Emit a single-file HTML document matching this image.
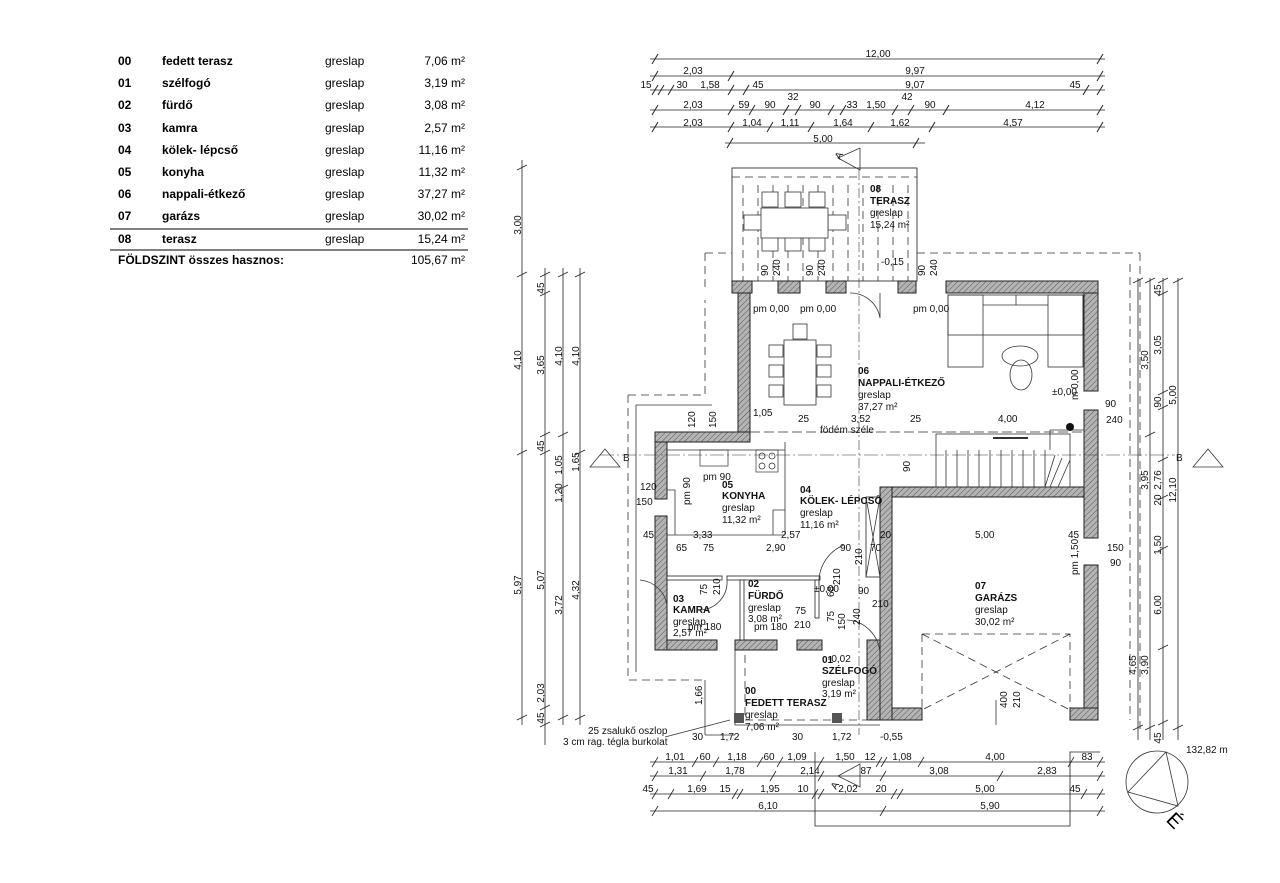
<!DOCTYPE html>
<html><head><meta charset="utf-8"><style>
body{margin:0;background:#fff;width:1280px;height:883px;overflow:hidden}
svg{display:block;font-family:"Liberation Sans",sans-serif}
.t{font-size:10px;fill:#111}
.b{font-size:10px;font-weight:bold;fill:#111}
.tb{font-size:12px;fill:#000}
.tbb{font-size:12px;font-weight:bold;fill:#000}
.d{stroke:#222;stroke-width:0.8;fill:none}
.w{fill:url(#h);stroke:#222;stroke-width:1}
.dash{stroke:#333;stroke-width:0.8;fill:none;stroke-dasharray:8 5}
.l{stroke:#333;stroke-width:0.8;fill:none}
</style></head><body>
<svg width="1280" height="883" viewBox="0 0 1280 883">
<defs>
<pattern id="h" width="4" height="4" patternUnits="userSpaceOnUse" patternTransform="rotate(45)">
<rect width="4" height="4" fill="#b4b4b4"/><line x1="0" y1="0" x2="0" y2="4" stroke="#555" stroke-width="1"/></pattern>
</defs>

<g>
<text class="tbb" x="118" y="65">00</text><text class="tbb" x="162" y="65">fedett terasz</text><text class="tb" x="325" y="65">greslap</text><text class="tb" x="465" y="65" text-anchor="end">7,06 m²</text>
<text class="tbb" x="118" y="87">01</text><text class="tbb" x="162" y="87">szélfogó</text><text class="tb" x="325" y="87">greslap</text><text class="tb" x="465" y="87" text-anchor="end">3,19 m²</text>
<text class="tbb" x="118" y="109">02</text><text class="tbb" x="162" y="109">fürdő</text><text class="tb" x="325" y="109">greslap</text><text class="tb" x="465" y="109" text-anchor="end">3,08 m²</text>
<text class="tbb" x="118" y="132">03</text><text class="tbb" x="162" y="132">kamra</text><text class="tb" x="325" y="132">greslap</text><text class="tb" x="465" y="132" text-anchor="end">2,57 m²</text>
<text class="tbb" x="118" y="154">04</text><text class="tbb" x="162" y="154">kölek- lépcső</text><text class="tb" x="325" y="154">greslap</text><text class="tb" x="465" y="154" text-anchor="end">11,16 m²</text>
<text class="tbb" x="118" y="176">05</text><text class="tbb" x="162" y="176">konyha</text><text class="tb" x="325" y="176">greslap</text><text class="tb" x="465" y="176" text-anchor="end">11,32 m²</text>
<text class="tbb" x="118" y="198">06</text><text class="tbb" x="162" y="198">nappali-étkező</text><text class="tb" x="325" y="198">greslap</text><text class="tb" x="465" y="198" text-anchor="end">37,27 m²</text>
<text class="tbb" x="118" y="220">07</text><text class="tbb" x="162" y="220">garázs</text><text class="tb" x="325" y="220">greslap</text><text class="tb" x="465" y="220" text-anchor="end">30,02 m²</text>
<line x1="110" y1="229" x2="468" y2="229" stroke="#000" stroke-width="1"/>
<text class="tbb" x="118" y="243">08</text><text class="tbb" x="162" y="243">terasz</text><text class="tb" x="325" y="243">greslap</text><text class="tb" x="465" y="243" text-anchor="end">15,24 m²</text>
<line x1="110" y1="250" x2="468" y2="250" stroke="#000" stroke-width="1"/>
<text class="tbb" x="118" y="264">FÖLDSZINT összes hasznos:</text><text class="tb" x="465" y="264" text-anchor="end">105,67 m²</text>
</g>

<g class="d">
<line x1="650" y1="59" x2="1105" y2="59"/>
<line x1="650" y1="76" x2="1105" y2="76"/>
<line x1="650" y1="90" x2="1105" y2="90"/>
<line x1="650" y1="110" x2="1105" y2="110"/>
<line x1="650" y1="127" x2="1105" y2="127"/>
<line x1="725" y1="143" x2="925" y2="143"/>
<g stroke-width="1">
<path d="M652 64l6-10M1097 64l6-10M652 81l6-10M728 81l6-10M1097 81l6-10M652 95l6-10M658 95l6-10M668 95l6-10M728 95l6-10M743 95l6-10M1083 95l6-10M1097 95l6-10M652 115l6-10M728 115l6-10M749 115l6-10M783 115l6-10M795 115l6-10M828 115l6-10M840 115l6-10M892 115l6-10M908 115l6-10M943 115l6-10M1097 115l6-10M652 132l6-10M728 132l6-10M767 132l6-10M808 132l6-10M868 132l6-10M929 132l6-10M1097 132l6-10M727 148l6-10M913 148l6-10"/>
</g>
</g>
<g class="t" text-anchor="middle">
<text x="878" y="57">12,00</text>
<text x="693" y="74">2,03</text><text x="915" y="74">9,97</text>
<text x="646" y="88">15</text><text x="682" y="88">30</text><text x="710" y="88">1,58</text><text x="758" y="88">45</text><text x="915" y="88">9,07</text><text x="1075" y="88">45</text>
<text x="793" y="100">32</text><text x="907" y="100">42</text>
<text x="693" y="108">2,03</text><text x="744" y="108">59</text><text x="770" y="108">90</text><text x="815" y="108">90</text><text x="852" y="108">33</text><text x="876" y="108">1,50</text><text x="930" y="108">90</text><text x="1035" y="108">4,12</text>
<text x="693" y="126">2,03</text><text x="752" y="126">1,04</text><text x="790" y="126">1,11</text><text x="843" y="126">1,64</text><text x="900" y="126">1,62</text><text x="1013" y="126">4,57</text>
<text x="823" y="142">5,00</text>
</g>

<path class="l" d="M860 148 L860 170 L838 158 L860 148" />
<text class="t" x="840" y="160" transform="rotate(-60 840 160)" font-size="12">A</text>
<line x1="859" y1="170" x2="859" y2="735" stroke="#333" stroke-width="0.6" stroke-dasharray="10 3 2 3"/>

<rect x="732" y="168" width="185" height="113" fill="none" stroke="#333" stroke-width="0.9"/>
<line x1="732" y1="177" x2="917" y2="177" class="dash"/>
<g class="dash" stroke-dasharray="7 5">
<path d="M743 185V281M758 185V281M773 185V281M788 185V281M803 185V281M818 185V281M833 185V281M848 185V281M863 185V281M878 185V281M893 185V281M908 185V281"/>
</g>
<g class="l" fill="#fff">
<rect x="762" y="192" width="16" height="15" fill="#fff"/><rect x="785" y="192" width="16" height="15" fill="#fff"/><rect x="809" y="192" width="16" height="15" fill="#fff"/>
<rect x="762" y="236" width="16" height="15" fill="#fff"/><rect x="785" y="236" width="16" height="15" fill="#fff"/><rect x="809" y="236" width="16" height="15" fill="#fff"/>
<rect x="744" y="215" width="18" height="15" fill="#fff"/><rect x="828" y="215" width="18" height="15" fill="#fff"/>
<rect x="761" y="208" width="67" height="30" fill="#fff"/>
</g>
<text class="b" x="870" y="192">08</text><text class="b" x="870" y="204">TERASZ</text>
<text class="t" x="870" y="216">greslap</text><text class="t" x="870" y="228">15,24 m²</text>

<path class="dash" d="M705 253 H732 M917 253 H1140 M705 253 V290 M1140 253 V730"/>
<path class="dash" d="M1130 264 V720"/>
<path class="dash" d="M628 395 V680 H705 M628 395 H705 V300"/>
<path class="l" d="M636 405 V672 M636 405 H712"/>

<rect class="w" x="732" y="281" width="20" height="12"/>
<rect class="w" x="778" y="281" width="22" height="12"/>
<rect class="w" x="826" y="281" width="20" height="12"/>
<rect class="w" x="898" y="281" width="18" height="12"/>
<rect class="w" x="946" y="281" width="152" height="12"/>
<rect class="w" x="738" y="293" width="12" height="149"/>
<rect class="w" x="1084" y="293" width="14" height="98"/>
<rect class="w" x="1084" y="410" width="14" height="128"/>
<rect class="w" x="1084" y="565" width="14" height="155"/>
<rect class="w" x="655" y="432" width="95" height="10"/>
<rect class="w" x="655" y="442" width="12" height="57"/>
<rect class="w" x="655" y="516" width="12" height="134"/>
<rect class="w" x="667" y="640" width="50" height="10"/>
<rect class="w" x="735" y="640" width="42" height="10"/>
<rect class="w" x="797" y="640" width="25" height="10"/>
<rect class="w" x="880" y="487" width="12" height="233"/>
<rect class="w" x="867" y="640" width="13" height="80"/>
<rect class="w" x="892" y="487" width="192" height="10"/>
<rect class="w" x="892" y="708" width="30" height="12"/>
<rect class="w" x="1070" y="708" width="28" height="12"/>
<rect x="667" y="576" width="55" height="4" fill="#fff" stroke="#222" stroke-width="0.8"/>
<rect x="727" y="576" width="93" height="4" fill="#fff" stroke="#222" stroke-width="0.8"/>
<rect x="740" y="580" width="4" height="60" fill="#fff" stroke="#222" stroke-width="0.8"/>
<rect x="815" y="580" width="4" height="38" fill="#fff" stroke="#222" stroke-width="0.8"/>
<rect x="866" y="497" width="14" height="80" fill="none" stroke="#222" stroke-width="0.8"/>
<path class="l" d="M866 497 L880 577 M880 497 L866 577"/>
<path class="l" d="M667 450 H785 M785 442 V535 M667 535 H785 M675 535 V490 H667 M773 535 V510 H785"/>
<rect x="700" y="450" width="28" height="16" fill="none" stroke="#333" stroke-width="0.7"/>
<rect x="756" y="450" width="22" height="22" fill="none" stroke="#333" stroke-width="0.7"/>
<circle cx="762" cy="456" r="3" class="l"/><circle cx="772" cy="456" r="3" class="l"/><circle cx="762" cy="466" r="3" class="l"/><circle cx="772" cy="466" r="3" class="l"/>
<rect x="936" y="434" width="134" height="53" fill="none" stroke="#333" stroke-width="0.8"/>
<g class="l"><path d="M946 450V487M957 450V487M968 450V487M979 450V487M990 450V487M1001 450V487M1012 450V487M1023 450V487M1034 450V487M1045 450V487M1055 455 L1045 487M1062 458 L1050 487M1070 460 L1058 487"/></g>
<rect x="993" y="437" width="35" height="2" fill="#333"/>
<path class="l" d="M1050 430 H1084 M1050 430 V450"/>
<circle cx="1070" cy="427" r="4" fill="#111"/>
<rect x="784" y="340" width="32" height="65" fill="none" stroke="#333" stroke-width="0.8"/>
<g class="l"><rect x="769" y="345" width="14" height="12"/><rect x="769" y="365" width="14" height="12"/><rect x="769" y="385" width="14" height="12"/><rect x="817" y="345" width="14" height="12"/><rect x="817" y="365" width="14" height="12"/><rect x="817" y="385" width="14" height="12"/><rect x="793" y="324" width="14" height="15"/></g>
<g class="l"><rect x="948" y="295" width="135" height="40"/><rect x="948" y="295" width="35" height="72"/><rect x="1048" y="295" width="35" height="72"/><path d="M983 305H1048M1016 295V305"/></g>
<ellipse cx="1020" cy="356" rx="18" ry="10" class="l"/><ellipse cx="1021" cy="375" rx="11" ry="15" class="l" fill="#fff"/>
<g class="l"><path d="M850 293 A30 30 0 0 1 880 318 M880 293 V318"/><path d="M640 580 A30 30 0 0 1 667 605"/><path d="M727 580 A28 28 0 0 1 700 610"/><path d="M844 545 A40 40 0 0 0 819 585"/><path d="M847 620 A35 35 0 0 1 880 655"/></g>
<path class="dash" d="M922 634 H1070 V710 M922 634 V710 M922 634 L1070 710 M1070 634 L922 710"/>
<line x1="996" y1="700" x2="996" y2="725" class="l"/>
<path class="l" d="M735 650 V725 H880"/>
<path class="dash" d="M745 655 V720 H870"/>
<rect x="734" y="713" width="10" height="10" fill="#555"/><rect x="832" y="713" width="10" height="10" fill="#555"/>
<path class="l" d="M705 680 V735 M705 735 H735"/>
<line x1="750" y1="432" x2="1084" y2="432" stroke="#333" stroke-width="0.7" stroke-dasharray="10 4"/>
<line x1="600" y1="455" x2="1175" y2="455" stroke="#333" stroke-width="0.6" stroke-dasharray="14 3 2 3"/>
<path class="l" d="M590 467 L605 449 L620 467 Z"/><text x="623" y="461" class="t" font-size="14">B</text>
<path class="l" d="M1193 467 L1208 449 L1223 467 Z"/><text x="1176" y="461" class="t" font-size="14">B</text>

<text class="b" x="858" y="374">06</text><text class="b" x="858" y="386">NAPPALI-ÉTKEZŐ</text>
<text class="t" x="858" y="398">greslap</text><text class="t" x="858" y="410">37,27 m²</text>
<text class="b" x="722" y="488">05</text><text class="b" x="722" y="499">KONYHA</text>
<text class="t" x="722" y="511">greslap</text><text class="t" x="722" y="523">11,32 m²</text>
<text class="b" x="800" y="493">04</text><text class="b" x="800" y="504">KÖLEK- LÉPCSŐ</text>
<text class="t" x="800" y="516">greslap</text><text class="t" x="800" y="528">11,16 m²</text>
<text class="b" x="673" y="602">03</text><text class="b" x="673" y="613">KAMRA</text>
<text class="t" x="673" y="625">greslap</text><text class="t" x="673" y="636">2,57 m²</text><text class="t" x="688" y="630">pm 180</text>
<text class="b" x="748" y="587">02</text><text class="b" x="748" y="599">FÜRDŐ</text>
<text class="t" x="748" y="611">greslap</text><text class="t" x="748" y="622">3,08 m²</text><text class="t" x="754" y="630">pm 180</text>
<text class="b" x="822" y="663">01</text><text class="b" x="822" y="674">SZÉLFOGÓ</text>
<text class="t" x="822" y="686">greslap</text><text class="t" x="822" y="697">3,19 m²</text>
<text class="b" x="745" y="694">00</text><text class="b" x="745" y="706">FEDETT TERASZ</text>
<text class="t" x="745" y="718">greslap</text><text class="t" x="745" y="730">7,06 m²</text>
<text class="b" x="975" y="589">07</text><text class="b" x="975" y="601">GARÁZS</text>
<text class="t" x="975" y="613">greslap</text><text class="t" x="975" y="625">30,02 m²</text>

<g class="t">
<text x="753" y="312">pm 0,00</text><text x="800" y="312">pm 0,00</text><text x="913" y="312">pm 0,00</text>
<text x="753" y="416">1,05</text><text x="798" y="422">25</text><text x="851" y="422">3,52</text><text x="910" y="422">25</text><text x="998" y="422">4,00</text>
<text x="820" y="433">födém széle</text>
<text x="703" y="480">pm 90</text>
<text x="881" y="265">-0,15</text><text x="1052" y="395">±0,00</text>
<text x="640" y="490">120</text><text x="636" y="505">150</text><text x="643" y="538">45</text>
<text x="693" y="538">3,33</text><text x="781" y="538">2,57</text><text x="880" y="538">20</text><text x="975" y="538">5,00</text><text x="1068" y="538">45</text>
<text x="676" y="551">65</text><text x="703" y="551">75</text><text x="766" y="551">2,90</text><text x="840" y="551">90</text><text x="870" y="551">70</text>
<text x="814" y="592">±0,00</text><text x="858" y="594">90</text><text x="872" y="607">210</text>
<text x="795" y="614">75</text><text x="794" y="628">210</text>
<text x="828" y="662">-0,02</text><text x="880" y="740">-0,55</text>
<text x="1105" y="407">90</text><text x="1106" y="423">240</text>
<text x="1107" y="551">150</text><text x="1110" y="566">90</text>
<text x="1186" y="753">132,82 m</text>
<text x="720" y="740">1,72</text><text x="832" y="740">1,72</text><text x="692" y="740">30</text><text x="792" y="740">30</text>
</g>
<g class="t">
<text transform="translate(768,276) rotate(-90)">90</text><text transform="translate(780,276) rotate(-90)">240</text>
<text transform="translate(813,276) rotate(-90)">90</text><text transform="translate(825,276) rotate(-90)">240</text>
<text transform="translate(925,276) rotate(-90)">90</text><text transform="translate(937,276) rotate(-90)">240</text>
<text transform="translate(695,428) rotate(-90)">120</text><text transform="translate(716,428) rotate(-90)">150</text>
<text transform="translate(690,505) rotate(-90)">pm 90</text>
<text transform="translate(910,472) rotate(-90)">90</text>
<text transform="translate(707,595) rotate(-90)">75</text><text transform="translate(720,595) rotate(-90)">210</text>
<text transform="translate(834,597) rotate(-90)">68</text><text transform="translate(834,622) rotate(-90)">75</text>
<text transform="translate(845,630) rotate(-90)">150</text><text transform="translate(860,625) rotate(-90)">240</text>
<text transform="translate(840,585) rotate(-90)">210</text><text transform="translate(862,565) rotate(-90)">210</text>
<text transform="translate(1007,708) rotate(-90)">400</text><text transform="translate(1020,708) rotate(-90)">210</text>
<text transform="translate(1078,400) rotate(-90)">m 0,00</text>
<text transform="translate(1078,575) rotate(-90)">pm 1,50</text>
<text transform="translate(702,705) rotate(-90)">1,66</text>
</g>
<text class="t" x="588" y="734">25 zsalukő oszlop</text>
<text class="t" x="563" y="745">3 cm rag. tégla burkolat</text>
<line x1="665" y1="737" x2="730" y2="720" class="l"/>

<g class="d">
<line x1="522" y1="160" x2="522" y2="725"/>
<line x1="545" y1="268" x2="545" y2="745"/>
<line x1="563" y1="268" x2="563" y2="725"/>
<line x1="580" y1="268" x2="580" y2="725"/>
<path d="M517 170l10-5M517 277l10-5M517 455l10-5M517 720l10-5M540 277l10-5M540 296l10-5M540 437l10-5M540 455l10-5M540 710l10-5M540 727l10-5M558 277l10-5M558 437l10-5M558 490l10-5M558 720l10-5M575 277l10-5M575 455l10-5M575 720l10-5"/>
</g>
<g class="t" text-anchor="middle">
<text transform="translate(521,225) rotate(-90)">3,00</text>
<text transform="translate(521,360) rotate(-90)">4,10</text>
<text transform="translate(521,585) rotate(-90)">5,97</text>
<text transform="translate(544,288) rotate(-90)">45</text>
<text transform="translate(544,365) rotate(-90)">3,65</text>
<text transform="translate(544,446) rotate(-90)">45</text>
<text transform="translate(544,580) rotate(-90)">5,07</text>
<text transform="translate(544,718) rotate(-90)">45</text>
<text transform="translate(544,693) rotate(-90)">2,03</text>
<text transform="translate(562,356) rotate(-90)">4,10</text>
<text transform="translate(562,465) rotate(-90)">1,05</text>
<text transform="translate(562,493) rotate(-90)">1,20</text>
<text transform="translate(562,605) rotate(-90)">3,72</text>
<text transform="translate(579,356) rotate(-90)">4,10</text>
<text transform="translate(579,462) rotate(-90)">1,65</text>
<text transform="translate(579,590) rotate(-90)">4,32</text>
</g>

<g class="d">
<line x1="1138" y1="278" x2="1138" y2="740"/>
<line x1="1150" y1="278" x2="1150" y2="740"/>
<line x1="1163" y1="278" x2="1163" y2="740"/>
<line x1="1178" y1="278" x2="1178" y2="740"/>
<path d="M1133 283l10-5M1133 730l10-5M1145 283l10-5M1145 437l10-5M1145 730l10-5M1158 283l10-5M1158 296l10-5M1158 395l10-5M1158 410l10-5M1158 462l10-5M1158 500l10-5M1158 551l10-5M1158 650l10-5M1158 725l10-5M1173 283l10-5M1173 730l10-5"/>
</g>
<g class="t" text-anchor="middle">
<text transform="translate(1148,360) rotate(-90)">3,50</text>
<text transform="translate(1148,480) rotate(-90)">3,95</text>
<text transform="translate(1136,665) rotate(-90)">4,65</text>
<text transform="translate(1148,665) rotate(-90)">3,90</text>
<text transform="translate(1161,290) rotate(-90)">45</text>
<text transform="translate(1161,345) rotate(-90)">3,05</text>
<text transform="translate(1161,402) rotate(-90)">90</text>
<text transform="translate(1161,480) rotate(-90)">2,76</text>
<text transform="translate(1161,500) rotate(-90)">20</text>
<text transform="translate(1161,545) rotate(-90)">1,50</text>
<text transform="translate(1161,605) rotate(-90)">6,00</text>
<text transform="translate(1161,738) rotate(-90)">45</text>
<text transform="translate(1176,395) rotate(-90)">5,00</text>
<text transform="translate(1176,490) rotate(-90)">12,10</text>
</g>

<g class="d">
<line x1="650" y1="762" x2="1105" y2="762"/>
<line x1="650" y1="776" x2="1105" y2="776"/>
<line x1="650" y1="794" x2="1105" y2="794"/>
<line x1="650" y1="811" x2="1105" y2="811"/>
<path d="M815 752 V826 H1070 V752 H1100"/>
<path d="M652 767l6-10M692 767l6-10M713 767l6-10M757 767l6-10M777 767l6-10M818 767l6-10M876 767l6-10M881 767l6-10M918 767l6-10M1068 767l6-10M1097 767l6-10M652 781l6-10M700 781l6-10M770 781l6-10M818 781l6-10M880 781l6-10M997 781l6-10M1097 781l6-10M652 799l6-10M668 799l6-10M732 799l6-10M737 799l6-10M812 799l6-10M818 799l6-10M891 799l6-10M897 799l6-10M1081 799l6-10M1097 799l6-10M652 816l6-10M880 816l6-10M1097 816l6-10"/>
</g>
<g class="t" text-anchor="middle">
<text x="675" y="760">1,01</text><text x="705" y="760">60</text><text x="737" y="760">1,18</text><text x="769" y="760">60</text><text x="797" y="760">1,09</text><text x="845" y="760">1,50</text><text x="870" y="760">12</text><text x="902" y="760">1,08</text><text x="995" y="760">4,00</text><text x="1087" y="760">83</text>
<text x="678" y="774">1,31</text><text x="735" y="774">1,78</text><text x="810" y="774">2,14</text><text x="866" y="774">87</text><text x="939" y="774">3,08</text><text x="1047" y="774">2,83</text>
<text x="648" y="792">45</text><text x="697" y="792">1,69</text><text x="725" y="792">15</text><text x="770" y="792">1,95</text><text x="803" y="792">10</text><text x="848" y="792">2,02</text><text x="881" y="792">20</text><text x="985" y="792">5,00</text><text x="1075" y="792">45</text>
<text x="768" y="809">6,10</text><text x="990" y="809">5,90</text>
</g>
<path class="l" d="M860 764 L860 787 L838 776 Z"/>
<text class="t" x="836" y="790" transform="rotate(-60 836 790)" font-size="12">A</text>

<circle cx="1157" cy="782" r="31" class="l" stroke-width="1"/>
<path class="l" d="M1128 792 L1166 752 L1178 806 Z"/>
<text x="1168" y="830" font-size="20" transform="rotate(45 1178 822)" fill="#000">É</text>
</svg>
</body></html>
